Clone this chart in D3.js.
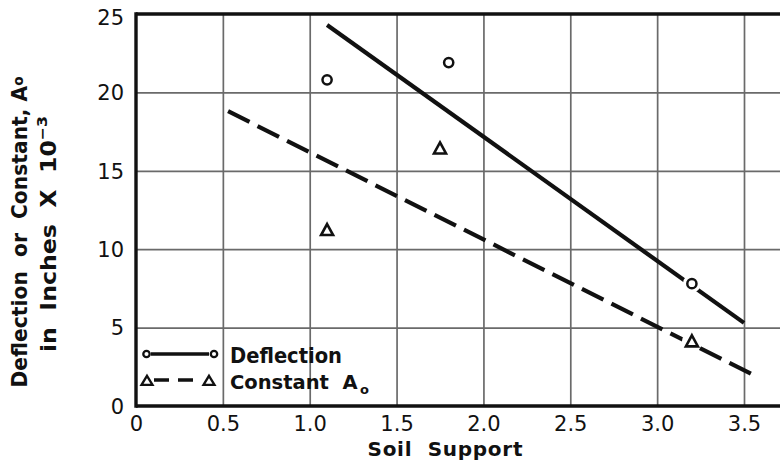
<!DOCTYPE html>
<html>
<head>
<meta charset="utf-8">
<script src="https://cdn.jsdelivr.net/npm/d3@7"></script>
<style>
  html, body { margin: 0; padding: 0; background: #fff; }
  svg { display: block; }
  text { font-family: "DejaVu Sans", "Liberation Sans", sans-serif; fill: #111; white-space: pre; }
</style>
</head>
<body>
<div id="chart"></div>
<script>
// Soil support vs. deflection / constant A0
const xTicks = [0, 0.5, 1.0, 1.5, 2.0, 2.5, 3.0, 3.5];
const xTickLabels = ["0", "0.5", "1.0", "1.5", "2.0", "2.5", "3.0", "3.5"];
const yTicks = [0, 5, 10, 15, 20, 25];
const yTickLabels = ["0", "5", "10", "15", "20", "25"];

// measured points
const deflectionX = [1.1, 1.8, 3.2];
const deflectionY = [20.8, 21.9, 7.8];
const constantX = [1.1, 1.75, 3.2];
const constantY = [11.2, 16.4, 4.1];

// fitted trend lines (end points)
const deflectionFitX = [1.1, 3.5];
const deflectionFitY = [24.3, 5.3];
const constantFitX = [0.53, 3.55];
const constantFitY = [18.8, 2.0];

const W = 780, H = 461;
const mLeft = 136, mTop = 14, mBottom = 406, mRight = 800;

const x = d3.scaleLinear().domain([0, 3.5]).range([mLeft, 744]);
const y = d3.scaleLinear().domain([0, 25]).range([mBottom, mTop]);

const svg = d3.select("#chart").append("svg")
  .attr("width", W).attr("height", H);

// grid
const gridX = svg.append("g")
  .attr("transform", `translate(0,${mBottom})`)
  .call(d3.axisBottom(x).tickValues(xTicks.slice(1)).tickSize(-(mBottom - mTop)).tickFormat(""));
gridX.select(".domain").remove();
gridX.selectAll("line").attr("stroke", "#6a6a6a").attr("stroke-width", 1.7);

const gridY = svg.append("g")
  .attr("transform", `translate(${mLeft},0)`)
  .call(d3.axisLeft(y).tickValues(yTicks.slice(1, -1)).tickSize(-(mRight - mLeft)).tickFormat(""));
gridY.select(".domain").remove();
gridY.selectAll("line").attr("stroke", "#6a6a6a").attr("stroke-width", 1.7);

// frame
const frame = svg.append("g").attr("stroke", "#111").attr("stroke-width", 3.4).attr("fill", "none");
frame.append("line").attr("x1", mLeft).attr("x2", mRight).attr("y1", y(25)).attr("y2", y(25));
frame.append("line").attr("x1", mLeft).attr("x2", mRight).attr("y1", y(0)).attr("y2", y(0));
frame.append("line").attr("x1", mLeft).attr("x2", mLeft).attr("y1", y(25) - 1.7).attr("y2", y(0) + 1.7);

// tick labels
const axX = svg.append("g")
  .attr("transform", `translate(0,${mBottom})`)
  .call(d3.axisBottom(x).tickValues(xTicks).tickSize(0).tickPadding(10)
    .tickFormat((d, i) => xTickLabels[i]));
axX.select(".domain").remove();
axX.selectAll("text").attr("font-size", 21).attr("font-family", "DejaVu Sans").attr("fill", "#111");

const axY = svg.append("g")
  .attr("transform", `translate(${mLeft},0)`)
  .call(d3.axisLeft(y).tickValues(yTicks).tickSize(0).tickPadding(12)
    .tickFormat((d, i) => yTickLabels[i]));
axY.select(".domain").remove();
axY.selectAll("text").attr("font-size", 21).attr("font-family", "DejaVu Sans").attr("fill", "#111")
  .attr("dy", d => d === 25 ? "0.5em" : "0.35em");

// axis titles
svg.append("text")
  .attr("x", 445).attr("y", 456)
  .attr("text-anchor", "middle")
  .attr("font-size", 20).attr("font-weight", "bold")
  .attr("textLength", 155).attr("lengthAdjust", "spacing")
  .text("Soil  Support");

const yTitle = svg.append("g").attr("transform", "translate(0,232) rotate(-90)");
const t1 = yTitle.append("text").attr("x", 0).attr("y", 27)
  .attr("text-anchor", "middle").attr("font-size", 21).attr("font-weight", "bold")
  .attr("textLength", 311).attr("lengthAdjust", "spacingAndGlyphs");
t1.append("tspan").text("Deflection  or  Constant, A");
t1.append("tspan").attr("font-size", 14).attr("dy", -4).text("o");

const t2 = yTitle.append("text").attr("x", -2).attr("y", 56)
  .attr("text-anchor", "middle").attr("font-size", 21).attr("font-weight", "bold")
  .attr("textLength", 236).attr("lengthAdjust", "spacingAndGlyphs");
t2.append("tspan").text("in  Inches  X  10");
t2.append("tspan").attr("font-size", 14).attr("dy", -9).text("−3");

// trend lines
const line = d3.line().x(d => x(d[0])).y(d => y(d[1]));
const defFit = deflectionFitX.map((v, i) => [v, deflectionFitY[i]]);
const conFit = constantFitX.map((v, i) => [v, constantFitY[i]]);

svg.append("path").datum(defFit).attr("d", line)
  .attr("fill", "none").attr("stroke", "#111").attr("stroke-width", 4.2);
svg.append("path").datum(conFit).attr("d", line)
  .attr("fill", "none").attr("stroke", "#111").attr("stroke-width", 4.2)
  .attr("stroke-dasharray", "24,9");

// markers
const triPath = (hw, h) => `M0,${-h * 0.58}L${hw},${h * 0.42}L${-hw},${h * 0.42}Z`;

function circleMarker(g, cx, cy) {
  g.append("circle").attr("cx", cx).attr("cy", cy).attr("r", 9).attr("fill", "#fff");
  g.append("circle").attr("cx", cx).attr("cy", cy).attr("r", 4.6)
    .attr("fill", "#fff").attr("stroke", "#111").attr("stroke-width", 2.5);
}
function triMarker(g, cx, cy) {
  g.append("circle").attr("cx", cx).attr("cy", cy).attr("r", 10).attr("fill", "#fff");
  g.append("path").attr("transform", `translate(${cx},${cy})`).attr("d", triPath(6, 11))
    .attr("fill", "#fff").attr("stroke", "#111").attr("stroke-width", 2.6)
    .attr("stroke-linejoin", "miter");
}

const pts = svg.append("g");
deflectionX.forEach((v, i) => circleMarker(pts, x(v), y(deflectionY[i])));
constantX.forEach((v, i) => triMarker(pts, x(v), y(constantY[i])));

// legend
const lg = svg.append("g");
lg.append("line").attr("x1", 151).attr("x2", 209).attr("y1", 354).attr("y2", 354)
  .attr("stroke", "#111").attr("stroke-width", 3.6);
lg.append("circle").attr("cx", 146.5).attr("cy", 354).attr("r", 3.2)
  .attr("fill", "#fff").attr("stroke", "#111").attr("stroke-width", 2.3);
lg.append("circle").attr("cx", 214).attr("cy", 354).attr("r", 3.2)
  .attr("fill", "#fff").attr("stroke", "#111").attr("stroke-width", 2.3);
lg.append("line").attr("x1", 154).attr("x2", 201).attr("y1", 380).attr("y2", 380)
  .attr("stroke", "#111").attr("stroke-width", 3.6).attr("stroke-dasharray", "15,9");
lg.append("path").attr("transform", "translate(147,381)").attr("d", triPath(5.5, 9))
  .attr("fill", "#fff").attr("stroke", "#111").attr("stroke-width", 2.3);
lg.append("path").attr("transform", "translate(209,381)").attr("d", triPath(5.5, 9))
  .attr("fill", "#fff").attr("stroke", "#111").attr("stroke-width", 2.3);

lg.append("text").attr("x", 230).attr("y", 363).attr("font-size", 20.5).attr("font-weight", "bold")
  .attr("textLength", 112).attr("lengthAdjust", "spacingAndGlyphs").text("Deflection");
lg.append("text").attr("x", 230).attr("y", 389).attr("font-size", 19.5).attr("font-weight", "bold")
  .text("Constant  A");
lg.append("text").attr("x", 360).attr("y", 394).attr("font-size", 13).attr("font-weight", "bold")
  .text("o");
</script>
</body>
</html>
